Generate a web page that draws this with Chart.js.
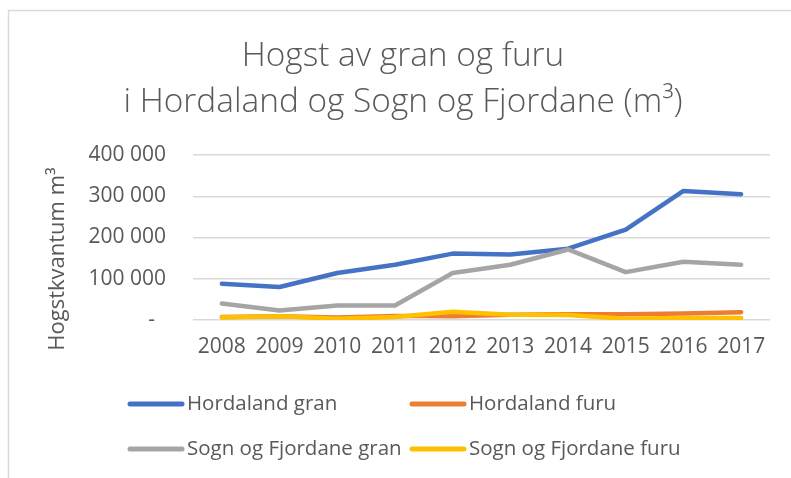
<!DOCTYPE html>
<html>
<head>
<meta charset="utf-8">
<script src="https://cdn.jsdelivr.net/npm/chart.js@4"></script>
<style>
  html, body { margin: 0; padding: 0; background: #ffffff; }
  canvas { display: block; }
</style>
</head>
<body>
<canvas id="c" width="791" height="478"></canvas>
<script>
const categories = ['2008', '2009', '2010', '2011', '2012', '2013', '2014', '2015', '2016', '2017'];
const hordalandGran = [88000, 80000, 114000, 134000, 161000, 159000, 173000, 219000, 313000, 305000];
const hordalandFuru = [7000, 9000, 6000, 10000, 9000, 13000, 14000, 14000, 16000, 19000];
const sognGran = [40000, 23000, 35000, 35000, 114000, 134000, 171000, 116000, 141000, 134000];
const sognFuru = [6000, 9000, 3000, 7000, 20000, 13000, 12000, 3000, 5000, 5000];
const seriesNames = ['Hordaland gran', 'Hordaland furu', 'Sogn og Fjordane gran', 'Sogn og Fjordane furu'];
const seriesColors = ['#4472C4', '#ED7D31', '#A5A5A5', '#FFC000'];
const titleLines = ['Hogst av gran og furu', 'i Hordaland og Sogn og Fjordane (m³)'];
const yAxisTitle = 'Hogstkvantum m³';

const FONT = "'Open Sans', sans-serif";
const TEXT = '#595959';

const allSeries = [hordalandGran, hordalandFuru, sognGran, sognFuru];
const datasets = allSeries.map((d, i) => ({
  label: seriesNames[i],
  data: d,
  borderColor: seriesColors[i],
  backgroundColor: seriesColors[i],
  borderWidth: 4.5,
  borderCapStyle: 'round',
  borderJoinStyle: 'round',
  pointRadius: 0,
  pointHoverRadius: 0,
  tension: 0,
  fill: false,
  order: 3 - i
}));

function fmt(v) {
  if (v === 0) return '-  ';
  return String(v).replace(/\B(?=(\d{3})+(?!\d))/g, ' ');
}

const decor = {
  id: 'decor',
  beforeDraw(chart) {
    const ctx = chart.ctx;
    ctx.save();
    ctx.fillStyle = '#ffffff';
    ctx.fillRect(0, 0, chart.width, chart.height);
    ctx.strokeStyle = '#d9d9d9';
    ctx.lineWidth = 1.5;
    ctx.strokeRect(8.5, 10.5, 900, 600);
    ctx.restore();
  },
  afterDraw(chart) {
    const ctx = chart.ctx;
    // title, sized so the second line spans ~559px, centred at x ~403
    ctx.save();
    ctx.fillStyle = TEXT;
    ctx.textAlign = 'center';
    ctx.textBaseline = 'alphabetic';
    let size = 31;
    ctx.font = "300 " + size + "px " + FONT;
    const w = ctx.measureText(titleLines[1]).width;
    size = size * 559 / w;
    ctx.font = "300 " + size.toFixed(2) + "px " + FONT;
    ctx.fillText(titleLines[0], 403, 66);
    ctx.fillText(titleLines[1], 403, 112);
    ctx.restore();

    // y axis title
    ctx.save();
    ctx.fillStyle = TEXT;
    ctx.font = "22px " + FONT;
    ctx.textAlign = 'center';
    ctx.textBaseline = 'middle';
    ctx.translate(58, 259);
    ctx.rotate(-Math.PI / 2);
    ctx.fillText(yAxisTitle, 0, 0);
    ctx.restore();

    // legend
    ctx.save();
    const colX = [128, 410];
    const rowY = [404, 449];
    chart.data.datasets.forEach((ds, i) => {
      const x = colX[i % 2];
      const y = rowY[Math.floor(i / 2)];
      ctx.strokeStyle = ds.borderColor;
      ctx.lineWidth = 5;
      ctx.lineCap = 'round';
      ctx.beginPath();
      ctx.moveTo(x + 2, y);
      ctx.lineTo(x + 54, y);
      ctx.stroke();
      ctx.fillStyle = TEXT;
      ctx.font = "20.5px " + FONT;
      ctx.textAlign = 'left';
      ctx.textBaseline = 'middle';
      ctx.fillText(ds.label, x + 59, y);
    });
    ctx.restore();
  }
};

new Chart(document.getElementById('c'), {
  type: 'line',
  data: { labels: categories, datasets: datasets },
  options: {
    responsive: false,
    devicePixelRatio: 1,
    animation: false,
    events: [],
    layout: { padding: { left: 0, right: 21, top: 155, bottom: 98 } },
    plugins: {
      legend: { display: false },
      tooltip: { enabled: false },
      title: { display: false }
    },
    scales: {
      x: {
        offset: true,
        grid: { display: false, drawTicks: false },
        border: { display: false },
        ticks: { color: TEXT, font: { family: FONT, size: 21 }, padding: 14, maxRotation: 0, autoSkip: false },
        afterFit(scale) { scale.height = 60; }
      },
      y: {
        min: 0,
        max: 400000,
        grid: { color: '#d9d9d9', lineWidth: 1.5, drawTicks: false },
        border: { display: false },
        ticks: {
          stepSize: 100000,
          color: TEXT,
          font: { family: FONT, size: 21 },
          padding: 27,
          callback: (v) => fmt(v)
        },
        afterFit(scale) { scale.width = 193; }
      }
    }
  },
  plugins: [decor]
});
</script>
</body>
</html>
